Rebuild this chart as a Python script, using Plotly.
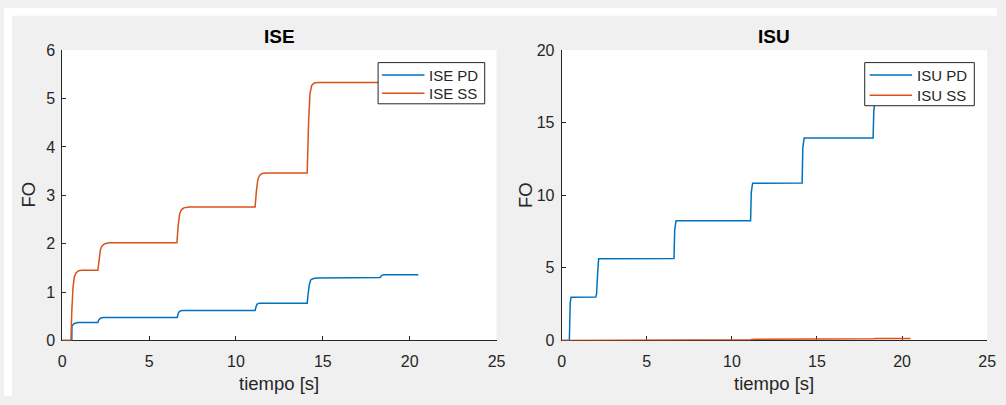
import plotly.graph_objects as go

W, H = 1006, 405

# ---------------- data ----------------
ise_pd_t = [0, 0.55, 0.56, 0.7, 0.9, 2.05, 2.1, 2.2, 2.35, 6.62, 6.68, 6.75, 6.9,
            11.1, 11.16, 11.22, 11.35, 14.1, 14.15, 14.22, 14.3, 14.45, 14.7,
            18.3, 18.38, 18.5, 20.5]
ise_pd_v = [0, 0, 0.3, 0.35, 0.37, 0.37, 0.42, 0.46, 0.475, 0.475, 0.56, 0.6, 0.62,
            0.62, 0.7, 0.75, 0.77, 0.77, 0.95, 1.15, 1.25, 1.28, 1.29,
            1.3, 1.34, 1.36, 1.36]

ise_ss_t = [0, 0.5, 0.55, 0.62, 0.7, 0.8, 0.95, 1.1, 2.05, 2.12, 2.2, 2.3, 2.45, 2.7,
            6.6, 6.68, 6.76, 6.86, 7.0, 7.3, 11.1, 11.18, 11.26, 11.36, 11.5, 11.8,
            14.1, 14.18, 14.26, 14.36, 14.5, 14.8, 20.5]
ise_ss_v = [0, 0, 0.6, 1.1, 1.32, 1.4, 1.44, 1.45, 1.45, 1.7, 1.88, 1.96, 2.0, 2.02,
            2.02, 2.4, 2.62, 2.7, 2.74, 2.76, 2.76, 3.1, 3.33, 3.41, 3.45, 3.46,
            3.46, 4.5, 5.1, 5.27, 5.32, 5.33, 5.33]

isu_pd_t = [0, 0.45, 0.5, 0.55, 2.0, 2.05, 2.12, 2.17, 6.6, 6.64, 6.72, 11.1, 11.14,
            11.22, 14.13, 14.17, 14.25, 18.3, 18.34, 18.45, 18.6, 20.5]
isu_pd_v = [0, 0, 2.6, 2.98, 3.0, 3.2, 4.8, 5.62, 5.65, 7.6, 8.25, 8.25, 10.2,
            10.83, 10.85, 13.3, 13.95, 13.95, 15.8, 17.0, 17.4, 17.5]

isu_ss_t = [0, 0.5, 0.6, 6.6, 6.8, 11.1, 11.3, 14.1, 14.3, 18.3, 18.5, 20.5]
isu_ss_v = [0, 0, 0.01, 0.01, 0.05, 0.05, 0.08, 0.08, 0.11, 0.11, 0.14, 0.14]

x_ticks = [0, 5, 10, 15, 20, 25]
ise_ticks = [0, 1, 2, 3, 4, 5, 6]
isu_ticks = [0, 5, 10, 15, 20]

panel_titles = ["ISE", "ISU"]
x_label = "tiempo [s]"
y_label = "FO"
legend_names = [["ISE PD", "ISE SS"], ["ISU PD", "ISU SS"]]

BLUE = "#0072BD"
ORANGE = "#D95319"
AX = "#262626"
FONT = "Liberation Sans, Arial, sans-serif"


def px(x):
    return x / W


def py(y):
    return 1 - y / H


fig = go.Figure()
fig.add_trace(go.Scatter(x=ise_pd_t, y=ise_pd_v, mode="lines", name=legend_names[0][0],
                         line=dict(color=BLUE, width=1.5), xaxis="x", yaxis="y"))
fig.add_trace(go.Scatter(x=ise_ss_t, y=ise_ss_v, mode="lines", name=legend_names[0][1],
                         line=dict(color=ORANGE, width=1.5), xaxis="x", yaxis="y"))
fig.add_trace(go.Scatter(x=isu_pd_t, y=isu_pd_v, mode="lines", name=legend_names[1][0],
                         line=dict(color=BLUE, width=1.5), xaxis="x2", yaxis="y2"))
fig.add_trace(go.Scatter(x=isu_ss_t, y=isu_ss_v, mode="lines", name=legend_names[1][1],
                         line=dict(color=ORANGE, width=1.5), xaxis="x2", yaxis="y2"))

axis_common = dict(showgrid=False, zeroline=False, showline=True, linecolor=AX, linewidth=1,
                   ticks="inside", ticklen=4, tickcolor=AX, mirror=False,
                   tickfont=dict(family=FONT, size=16, color=AX),
                   layer="below traces", fixedrange=True)

ydom = [py(347), py(44)]
fig.update_layout(
    width=W, height=H,
    margin=dict(l=0, r=0, t=0, b=0),
    paper_bgcolor="#f0f0f0", plot_bgcolor="white",
    showlegend=False,
    xaxis=dict(domain=[px(59), px(499)], range=[0, 25], tickvals=x_ticks, anchor="y",
               ticklabelstandoff=6, **axis_common),
    yaxis=dict(domain=ydom, range=[0, 6], tickvals=ise_ticks, anchor="x",
               ticklabelstandoff=3, **axis_common),
    xaxis2=dict(domain=[px(565), px(996)], range=[0, 25], tickvals=x_ticks, anchor="y2",
                ticklabelstandoff=6, **axis_common),
    yaxis2=dict(domain=ydom, range=[0, 20], tickvals=isu_ticks, anchor="x2",
                ticklabelstandoff=3, **axis_common),
)

# white strips at the top and left edge of the window (as in the screenshot)
fig.add_shape(type="rect", xref="paper", yref="paper", x0=0, x1=1, y0=py(8), y1=1,
              fillcolor="white", line=dict(width=0), layer="below")
fig.add_shape(type="rect", xref="paper", yref="paper", x0=0, x1=px(8), y0=0, y1=1,
              fillcolor="white", line=dict(width=0), layer="below")

ann = []
# legends (boxed, white, drawn over the curves)
legend_boxes = [dict(x0=379, x1=487, y0=57, y1=100, lx0=383, lx1=426, tx=429, rows=(70, 89)),
                dict(x0=872, x1=983, y0=57, y1=102, lx0=877, lx1=920, tx=923, rows=(70, 91))]
for names, box in zip(legend_names, legend_boxes):
    fig.add_shape(type="rect", xref="paper", yref="paper",
                  x0=px(box["x0"]), x1=px(box["x1"]), y0=py(box["y1"]), y1=py(box["y0"]),
                  fillcolor="white", line=dict(color=AX, width=1), layer="above")
    for name, col, ry in zip(names, (BLUE, ORANGE), box["rows"]):
        fig.add_shape(type="line", xref="paper", yref="paper",
                      x0=px(box["lx0"]), x1=px(box["lx1"]), y0=py(ry), y1=py(ry),
                      line=dict(color=col, width=1.5), layer="above")
        ann.append(dict(text=name, x=px(box["tx"]), y=py(ry), xref="paper", yref="paper",
                        showarrow=False, xanchor="left", yanchor="middle",
                        font=dict(family=FONT, size=15, color=AX)))

for title, cx in zip(panel_titles, (279, 780.5)):
    ann.append(dict(text="<b>" + title + "</b>", x=px(cx), y=py(30), xref="paper", yref="paper",
                    showarrow=False, xanchor="center", yanchor="middle",
                    font=dict(family=FONT, size=19, color="black")))
for cx in (279, 780.5):
    ann.append(dict(text=x_label, x=px(cx), y=py(392), xref="paper", yref="paper",
                    showarrow=False, xanchor="center", yanchor="middle",
                    font=dict(family=FONT, size=18.5, color=AX)))
for cx in (25, 529):
    ann.append(dict(text=y_label, x=px(cx), y=py(195), xref="paper", yref="paper",
                    showarrow=False, xanchor="center", yanchor="middle", textangle=-90,
                    font=dict(family=FONT, size=18.5, color=AX)))
fig.update_layout(annotations=ann)

fig.write_html("out.html")
